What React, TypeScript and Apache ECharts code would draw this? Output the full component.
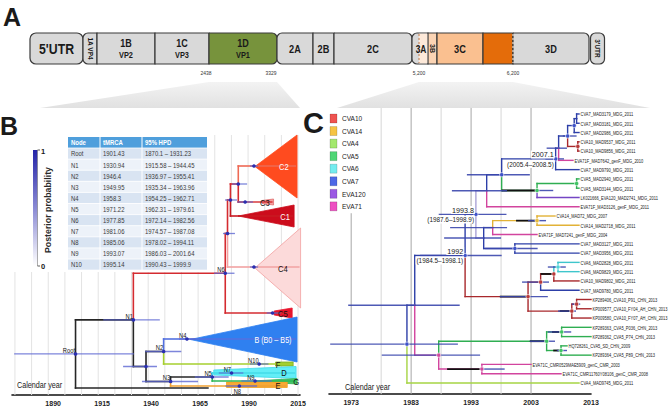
import React, { useEffect, useRef } from 'react';
import * as echarts from 'echarts';

const FONT = "'Liberation Sans', Arial, Helvetica, sans-serif";

// ================= Panel A (genome schematic) =================
const genomeNames = ["5'UTR", '1A VP4', '1B', '1C', '1D', '2A', '2B', '2C', '3A', '3B', '3C', '', '3D', "3'UTR"];
const genomeProteins = ['', '', 'VP2', 'VP3', 'VP1', '', '', '', '', '', '', '', '', ''];
const genomeMarks = ['2438', '3329', '5,200', '6,200'];

// ================= Panel B data =================
const tableNodes = ['Root', 'N1', 'N2', 'N3', 'N4', 'N5', 'N6', 'N7', 'N8', 'N9', 'N10'];
const tableTmrca = [1901.43, 1930.94, 1946.4, 1949.95, 1958.3, 1971.22, 1977.85, 1981.06, 1985.06, 1993.07, 1995.14];
const tableHpdLow = [1870.1, 1915.58, 1936.97, 1935.34, 1954.25, 1962.31, 1972.14, 1974.57, 1978.02, 1986.03, 1990.43];
const tableHpdHigh = [1931.23, 1944.45, 1955.41, 1963.96, 1962.71, 1979.61, 1982.56, 1987.08, 1994.11, 2001.64, 1999.9];

const bAxisYears = [1890, 1915, 1940, 1965, 1990, 2015];
const bGridYears = [1870.5, 1879, 1887.5, 1896, 1904.5, 1913, 1921.5, 1930, 1938.5, 1947, 1955.5, 1964, 1972.5, 1981, 1989.5, 1998, 2006.5, 2015];

const tm = (n: string) => tableTmrca[tableNodes.indexOf(n)];

const bTreeIds = ['Root', 'N1', 'L0', 'N6', 'X', 'Z', 'C5n', 'W', 'C4n', 'V', 'C1n', 'C2n', 'C3n', 'N2', 'N3', 'N4', 'N10', 'N5', 'N8', 'N7', 'N9'];
const bTreeYears = [tm('Root'), tm('N1'), 1969, tm('N6'), 1937.4, 1979, 2002, 1980.5, 1992.5, 1984.5, 1984.5, 1992.5, 1988, tm('N2'), tm('N3'), tm('N4'), tm('N10'), tm('N5'), tm('N8'), tm('N7'), tm('N9')];
const bTreeParents = [null, 'Root', 'Root', 'N1', 'N1', 'N6', 'N6', 'Z', 'Z', 'W', 'W', 'V', 'V', 'X', 'X', 'N2', 'N2', 'N3', 'N3', 'N5', 'N5'];
const bTreeColors = ['black', 'black', 'black', 'red', 'black', 'red', 'red', 'red', 'pink', 'red', 'darkred', 'salmon', 'red', 'black', 'black', 'blue', 'yellowgreen', 'black', 'orange', 'cyan', 'green'];
const bTipIds = ['C2n', 'C3n', 'C1n', 'C4n', 'C5n', 'N4', 'N10', 'N7', 'N9', 'N8', 'L0'];
const bTipLanes = [166, 202, 216, 267, 313, 339, 364, 373, 381, 386, 388];

const bExtraHpdIds = ['X', 'Z', 'W', 'V', 'C2n', 'C3n', 'C4n', 'C5n'];
const bExtraHpdLow = [1925.7, 1976.7, 1977.7, 1981.3, 1990.5, 1984, 1990.5, 1999];
const bExtraHpdHigh = [1943, 1982.8, 1983.9, 1989, 1994.6, 1992, 1994.6, 2006];

const cladeNames = ['C2', 'C3', 'C1', 'C4', 'C5', 'B (B0 – B5)', 'F', 'D', 'G', 'E'];
const cladeNodes = ['C2n', 'C3n', 'C1n', 'C4n', 'C5n', 'N4', 'N10', 'N7', 'N9', 'N8'];
const cladeStart = [1993, 1996.6, 1984.5, 1993, 2002.8, 1960, 2003.5, 1972, 1994, 1978.5];
const cladeEnd = [2014.5, 2002.5, 2013, 2016.3, 2012, 2014.5, 2012.5, 2014, 2014.5, 2009.5];
const cladeTop = [135, 199, 205, 228, 308, 317, 362, 366.5, 378.5, 382];
const cladeBottom = [198, 205, 227, 308, 318, 362, 366, 378.5, 384, 387.5];
const cladeStartHalf = [0, 1.5, 0, 0, 2, 0, 2, 2.5, 0.5, 2.75];
const cladeFill = ['#ff4b1f', '#f59c9c', '#cc0c1c', '#fcdada', '#e8142c', '#2f80f0', '#9ccc34', '#62eef7', '#45c768', '#f7a935'];
const cladeStroke = ['#ff4b1f', '#e07070', '#cc0c1c', '#f2a0a0', '#e8142c', '#2f80f0', '#80b020', '#40d8e8', '#30b050', '#f0a020'];
const cladeLabelColor = ['#fff', '#111', '#fff', '#111', '#111', '#fff', '#111', '#111', '#111', '#111'];
const cladeLabelYear = [2007.8, 1998.1, 2008.4, 2007.3, 2007.3, 2002.2, 2004.8, 2007.8, 2014, 2004.8];

// ================= Panel C data =================
const cLegendNames = ['CVA10', 'CVA14', 'CVA4', 'CVA5', 'CVA6', 'CVA7', 'EVA120', 'EVA71'];
const cLegendColors = ['#ef5350', '#f6c343', '#a3e86d', '#4fd676', '#74ecef', '#4d68e6', '#9b59e3', '#ee50c2'];
const cAxisYears = [1973, 1983, 1993, 2003, 2013];
const cGridYears = [1973, 1978, 1983, 1988, 1993, 1998, 2003];

const cLeafNames = [
  'CVA7_MAD3179_MDG_2011', 'CVA7_MAD3181_MDG_2011', 'CVA7_MAD2986_MDG_2011', 'CVA10_MAD9537_MDG_2011',
  'CVA10_MAD9856_MDG_2011', 'EVA71F_MAD7642_genF_MDG_2010', 'CVA7_MAD9790_MDG_2011', 'CVA5_MAD2940_MDG_2011',
  'CVA5_MAD3144_MDG_2011', 'LK021666_EVA120_MAD2741_MDG_2011', 'EVA71F_MAD3126_genF_MDG_2011', 'CVA14_MAD72_MDG_2007',
  'CVA14_MAD2718_MDG_2011', 'EVA71F_MAD7241_genF_MDG_2004', 'CVA7_MAD3127_MDG_2011', 'CVA7_MAD3956_MDG_2011',
  'CVA6_MAD2828_MDG_2011', 'CVA6_MAD9829_MDG_2011', 'CVA10_MAD9802_MDG_2011', 'CVA7_MAD9780_MDG_2011',
  'KP289406_CVA10_P91_CHN_2013', 'KP009577_CVA10_FY04_AH_CHN_2013', 'KP009580_CVA10_FY07_AH_CHN_2013', 'KP289363_CVA5_P036_CHN_2013',
  'KP289362_CVA5_P74_CHN_2013', 'HQ728261_CVA5_SD_CHN_2009', 'KP289364_CVA5_P89_CHN_2013', 'EVA71C_CMR0529MAE5909_genC_CMR_2003',
  'EVA71C_CMR11760Y08106_genC_CMR_2008', 'CVA4_MAD9745_MDG_2011',
];
const cLeafYears = [2011, 2011, 2011, 2011, 2011, 2010, 2011, 2011, 2011, 2011, 2011, 2007, 2011, 2004, 2011, 2011, 2011, 2011, 2011, 2011, 2013, 2013, 2013, 2013, 2013, 2009, 2013, 2003, 2008, 2011];
const cLeafParents = ['c1', 'c1', 'c2', 'cR1', 'cR1', 'J', 'N2007', 'cV5', 'cV5', 'cE', 'V', 'c14', 'c14', 'W', 'c7a', 'c7a', 'c6', 'c6', 'R1a', 'R1', 'cR3', 'cR3', 'R2', 'g1', 'g1', 'g2', 'g2', 'e71', 'e71', 'RootC'];
const cLeafColors = ['blue', 'blue', 'blue', 'red', 'red', 'magenta', 'blue', 'green', 'green', 'purple', 'magenta', 'yellow', 'yellow', 'magenta', 'blue', 'blue', 'cyan', 'cyan', 'red', 'blue', 'red', 'red', 'red', 'green', 'green', 'green', 'green', 'magenta', 'magenta', 'lime'];

const cNodeIds = ['RootC', 'Q', 'N1992', 'N1993', 'V', 'U', 'N2007', 'J', 'c3', 'c2', 'c1', 'cR1', 'cE', 'cV5', 'X', 'W', 'c14', 'c7a', 'R', 'R1', 'R1a', 'c6', 'R2', 'cR3', 'n439', 'g3', 'g1', 'g2', 'e71'];
const cNodeYears = [1982.3, 1983.6, 1992, 1993.8, 1995.6, 1998.1, 2007.1, 2007.6, 2009.1, 2010.2, 2010.6, 2010.8, 2004, 2010.6, 1995.1, 1996.6, 2004, 2000.3, 2002.5, 2004.6, 2006.8, 2007.5, 2009.8, 2010.6, 1987.6, 2005.6, 2008.1, 2008, 1994.8];
const cNodeParents = [null, 'RootC', 'Q', 'N1992', 'N1993', 'V', 'U', 'N2007', 'J', 'c3', 'c2', 'c3', 'U', 'cE', 'N1993', 'X', 'W', 'X', 'N1992', 'R', 'R1', 'R1a', 'R', 'R2', 'Q', 'n439', 'g3', 'g3', 'n439'];
const cNodeColors = ['blue', 'blue', 'blue', 'blue', 'pale', 'blue', 'blue', 'blue', 'blue', 'blue', 'blue', 'red', 'green', 'green', 'pale', 'blue', 'yellow', 'blue', 'red', 'red', 'red', 'cyan', 'red', 'red', 'magenta', 'green', 'green', 'green', 'magenta'];

const cHpdIds = ['RootC', 'Q', 'N1992', 'N1993', 'V', 'U', 'N2007', 'J', 'c3', 'cE', 'X', 'W', 'c14', 'c7a', 'R', 'R1', 'c6', 'R2', 'cR3', 'n439', 'g3', 'g1', 'g2', 'e71'];
const cHpdLow = [1969.5, 1972.5, 1984.5, 1987.6, 1989.8, 1992.3, 2005.4, 2005.6, 2008.3, 2004, 1988.5, 1989.5, 2002.5, 1995.3, 1997.8, 2001.5, 2005.8, 2007.5, 2009.8, 1978.1, 2002.8, 2005.8, 2007.3, 1994.8];
const cHpdHigh = [1990.8, 1991.1, 1998.1, 1998.9, 1999, 2002.8, 2008.5, 2009, 2010.6, 2006.7, 1998, 1999, 2005.5, 2004.1, 2005.8, 2006, 2008.8, 2010.5, 2011.2, 1994.5, 2007, 2009.7, 2009, 1998.6];

const cBlackIds = ['cE', 'c14', 'R', 'R2', 'g3', 'e71', 'R1a', 'g1', 'g2'];
const cBlackFrom = [1998.1, 2000.5, 1997.8, 2007.8, 2002.8, 1989, 2004.6, 2006.5, 2006.7];
const cBlackTo = [2004, 2004, 2002.5, 2009.8, 2005.6, 1994.8, 2006.8, 2008.1, 2008];

const cDotIds = ['RootC', 'n439', 'e71', 'g3', 'g1', 'g2', 'N1992', 'N1993', 'c7a', 'c14', 'U', 'cE', 'cV5', 'N2007', 'c3', 'c2', 'cR1', 'R', 'R1', 'R1a', 'c6', 'R2', 'cR3'];
const cAnnotIds = ['N2007', 'N1993', 'N1992'];

const bColors: Record<string, string> = {
  black: '#262626', red: '#d42b30', pink: '#f2a2a2', darkred: '#c81a22', salmon: '#ee6a55',
  blue: '#5470e0', yellowgreen: '#a6cf2e', orange: '#f0a030', cyan: '#45dbe8', green: '#2eb857',
};
const cColors: Record<string, string> = {
  blue: '#2d3fa8', red: '#a8282c', magenta: '#d2449e', green: '#2fae52', yellow: '#e2b236',
  cyan: '#3ec6cc', purple: '#7446c4', lime: '#a6d443', pale: '#aaa3d6',
};

type TNode = { id: string; year: number; parent: string | null; color: string; lane: number; children: string[] };

function layoutTree(ids: string[], years: number[], parents: (string | null)[], colors: string[], tipLanes: Record<string, number>) {
  const map: Record<string, TNode> = {};
  ids.forEach((id, i) => {
    map[id] = { id, year: years[i], parent: parents[i], color: colors[i], lane: tipLanes[id] ?? NaN, children: [] };
  });
  ids.forEach((id, i) => { const p = parents[i]; if (p) map[p].children.push(id); });
  const lane = (id: string): number => {
    const n = map[id];
    if (!isNaN(n.lane)) return n.lane;
    const ls = n.children.map(lane);
    n.lane = (Math.min(...ls) + Math.max(...ls)) / 2;
    return n.lane;
  };
  ids.forEach(lane);
  return map;
}

function branchSegments(map: Record<string, TNode>, palette: Record<string, string>) {
  const segs: any[] = [];
  Object.values(map).forEach((n) => {
    if (!n.parent) return;
    const p = map[n.parent];
    segs.push([p.year, p.lane, p.year, n.lane, palette[n.color]]);
    segs.push([p.year, n.lane, n.year, n.lane, palette[n.color]]);
  });
  return segs;
}

function segSeries(segs: any[], axis: number, width: number, z: number, cap = 'butt', opacity = 1) {
  return {
    type: 'custom', xAxisIndex: axis, yAxisIndex: axis, clip: false, silent: true, z,
    data: segs.map((s) => [s[0], s[1], s[2], s[3]]),
    renderItem: (params: any, api: any) => {
      const s = segs[params.dataIndex];
      const a = api.coord([s[0], s[1]]);
      const b = api.coord([s[2], s[3]]);
      return {
        type: 'line',
        shape: { x1: a[0], y1: a[1], x2: b[0], y2: b[1] },
        style: { stroke: s[4], lineWidth: s[5] ?? width, opacity: s[6] ?? opacity, lineCap: cap },
      };
    },
  };
}

function dotSeries(pts: any[], axis: number, r: number, z: number) {
  return {
    type: 'custom', xAxisIndex: axis, yAxisIndex: axis, clip: false, silent: true, z,
    data: pts.map((p) => [p[0], p[1]]),
    renderItem: (params: any, api: any) => {
      const p = pts[params.dataIndex];
      const c = api.coord([p[0], p[1]]);
      return { type: 'circle', shape: { cx: c[0], cy: c[1], r }, style: { fill: p[2], stroke: p[3] ?? 'none', lineWidth: 0.6 } };
    },
  };
}

// texts: [x, y, text, color, size, align, vAlign, scaleX, weight, dx, dy, bg]
function textSeries(items: any[], axis: number, z: number) {
  return {
    type: 'custom', xAxisIndex: axis, yAxisIndex: axis, clip: false, silent: true, z,
    data: items.map((t) => [t[0], t[1]]),
    renderItem: (params: any, api: any) => {
      const t = items[params.dataIndex];
      const c = api.coord([t[0], t[1]]);
      const style: any = {
        text: t[2], fill: t[3], fontSize: t[4], fontFamily: FONT, fontWeight: t[8] ?? 'normal',
        align: t[5], verticalAlign: t[6],
      };
      if (t[11]) { style.backgroundColor = t[11]; style.padding = [0, 1]; }
      return { type: 'text', x: c[0] + (t[9] ?? 0), y: c[1] + (t[10] ?? 0), scaleX: t[7] ?? 1, style };
    },
  };
}

function buildOption() {
  // ---------- Panel B ----------
  const bTip: Record<string, number> = {};
  bTipIds.forEach((id, i) => (bTip[id] = bTipLanes[i]));
  const bMap = layoutTree(bTreeIds, bTreeYears, bTreeParents, bTreeColors, bTip);
  const bBranches = branchSegments(bMap, bColors);

  const bGrid = bGridYears.map((yr) => [yr, yr < 1968.5 ? 272 : 135, yr, 395, '#e3e3e3']);

  const bStems = cladeNodes.map((id, i) => {
    const n = bMap[id];
    return [n.year, n.lane, Math.max(cladeEnd[i] - 0.5, n.year), n.lane, bColors[n.color]];
  });

  const bHpd: any[] = [];
  tableNodes.forEach((id, i) => {
    const lane = bMap[id].lane;
    bHpd.push([tableHpdLow[i], lane, tableHpdHigh[i], lane, '#5d66d2']);
  });
  bExtraHpdIds.forEach((id, i) => {
    const lane = bMap[id].lane;
    bHpd.push([bExtraHpdLow[i], lane, bExtraHpdHigh[i], lane, '#5d66d2']);
  });
  const bDots = [...tableNodes, ...bExtraHpdIds].map((id) => [bMap[id].year, bMap[id].lane, '#2a2fb0']);

  const bTexts: any[] = [];
  tableNodes.forEach((id) => {
    const n = bMap[id];
    if (id === 'N8') bTexts.push([n.year, n.lane, id, '#111', 6.8, 'center', 'top', 0.85, 'normal', -2, 2]);
    else bTexts.push([n.year, n.lane, id, '#111', 6.8, 'right', 'bottom', 0.85, 'normal', -0.5, -0.5]);
  });
  cladeNames.forEach((name, i) => {
    const lane = (cladeTop[i] + cladeBottom[i]) / 2 + 0.5;
    bTexts.push([cladeLabelYear[i], lane, name, cladeLabelColor[i], name.length > 3 ? 9 : 9.5, 'center', 'middle', 0.8, 'normal']);
  });

  const cladeSeries = {
    type: 'custom', xAxisIndex: 0, yAxisIndex: 0, clip: false, silent: true, z: 3,
    data: cladeNames.map((_, i) => [cladeStart[i], cladeTop[i]]),
    renderItem: (params: any, api: any) => {
      const i = params.dataIndex;
      const mid = (cladeTop[i] + cladeBottom[i]) / 2;
      const h = cladeStartHalf[i];
      const pts = [
        api.coord([cladeStart[i], mid - h]),
        api.coord([cladeEnd[i], cladeTop[i]]),
        api.coord([cladeEnd[i], cladeBottom[i]]),
        api.coord([cladeStart[i], mid + h]),
      ];
      return { type: 'polygon', shape: { points: pts }, style: { fill: cladeFill[i], stroke: cladeStroke[i], lineWidth: 0.8 } };
    },
  };

  // ---------- Panel C ----------
  const cIds = [...cNodeIds, ...cLeafNames];
  const cYears = [...cNodeYears, ...cLeafYears];
  const cParents = [...cNodeParents, ...cLeafParents];
  const cCols = [...cNodeColors, ...cLeafColors];
  const cTip: Record<string, number> = {};
  cLeafNames.forEach((n, i) => (cTip[n] = i));
  const cMap = layoutTree(cIds, cYears, cParents, cCols, cTip);
  const cBranches = branchSegments(cMap, cColors);

  const cGrid = cGridYears.map((yr) => [yr, yr === 1973 ? 10.7 : -0.65, yr, 30.2, yr % 10 === 3 ? '#a6a6a6' : '#d6d6d6']);
  const cBlack = cBlackIds.map((id, i) => [cBlackFrom[i], cMap[id].lane, cBlackTo[i], cMap[id].lane, '#111']);
  const cHpd = cHpdIds.map((id, i) => [cHpdLow[i], cMap[id].lane, cHpdHigh[i], cMap[id].lane, '#3b47ad']);
  const dotCol: Record<string, string> = { ...cColors, blue: '#3e52c8', pale: '#3e52c8', red: '#b83a3a', green: '#3fc463', magenta: '#d04a9c', yellow: '#e6bb3c', cyan: '#4fd3d8' };
  const cDots = cDotIds.map((id) => [cMap[id].year, cMap[id].lane, dotCol[cMap[id].color], '#ffffff']);

  const cTexts: any[] = cLeafNames.map((name, i) => [cLeafYears[i], i, name, '#1a1a1a', 6, 'left', 'middle', 0.67, 'normal', 1.5, 0]);
  cAnnotIds.forEach((id) => {
    const n = cMap[id];
    const k = cHpdIds.indexOf(id);
    cTexts.push([n.year, n.lane, String(n.year), '#1a1a1a', 8, 'right', 'bottom', 0.9, 'normal', -1, -0.5, '#ffffff']);
    cTexts.push([n.year, n.lane, `(${cHpdLow[k]}–${cHpdHigh[k]})`, '#1a1a1a', 7.5, 'right', 'top', 0.85, 'normal', -1, 1, '#ffffff']);
  });

  // ---------- graphic (panel A, table, legends) ----------
  const g: any[] = [];
  const T = (text: string, x: number, y: number, size: number, o: any = {}) =>
    g.push({
      type: 'text', x, y, scaleX: o.sx ?? 1, rotation: o.rot ?? 0, z: o.z ?? 20, silent: true,
      style: {
        text, fill: o.color ?? '#1a1a1a', fontSize: size, fontFamily: FONT, fontWeight: o.weight ?? 'normal',
        textAlign: o.align ?? 'center', textVerticalAlign: o.va ?? 'middle', align: o.align ?? 'center', verticalAlign: o.va ?? 'middle',
      },
    });
  const R = (x: number, y: number, w: number, h: number, fill: any, o: any = {}) =>
    g.push({
      type: 'rect', z: o.z ?? 10, silent: true, shape: { x, y, width: w, height: h, r: o.r ?? 0 },
      style: { fill, stroke: o.stroke ?? 'none', lineWidth: o.lw ?? 1, lineDash: o.dash },
    });

  const trapFill = new echarts.graphic.LinearGradient(0, 0, 0, 1, [
    { offset: 0, color: '#f3f3f3' }, { offset: 1, color: '#e1e1e1' },
  ]);
  g.push({ type: 'polygon', z: 1, silent: true, shape: { points: [[209, 82], [277, 82], [300, 108], [40, 108]] }, style: { fill: trapFill } });
  g.push({ type: 'polygon', z: 1, silent: true, shape: { points: [[419, 82], [513, 82], [650, 108], [337, 108]] }, style: { fill: trapFill } });

  const by = 33, bh = 31;
  const edges = [30, 83, 97, 155, 209, 277, 313, 334, 412, 428, 437, 483, 513, 589];
  const fills = ['#d9d9d9', '#d9d9d9', '#d9d9d9', '#d9d9d9', '#77933c', '#d9d9d9', '#d9d9d9', '#d9d9d9', '#d9d9d9', '#fbd4b4', '#fac090', '#e46c0a', '#d9d9d9'];
  const radii: any[] = [6, [5, 0, 0, 5], 0, 0, [0, 5, 5, 0], [5, 0, 0, 5], 0, [0, 5, 5, 0], [5, 0, 0, 5], 0, 0, 0, [0, 5, 5, 0]];
  for (let i = 0; i < edges.length - 1; i++) {
    R(edges[i], by, edges[i + 1] - edges[i], bh, fills[i], { stroke: '#3a3a3a', lw: 1.2, r: radii[i] });
  }
  R(590.5, by, 14, bh, '#d9d9d9', { stroke: '#3a3a3a', lw: 1.2, r: 5 });
  R(419, by + 0.7, 8.4, bh - 1.4, '#fde9d9', { z: 11 });
  g.push({ type: 'line', z: 12, silent: true, shape: { x1: 419, y1: by + 1, x2: 419, y2: by + bh - 1 }, style: { stroke: '#c47a4a', lineWidth: 1, lineDash: [2, 2] } });
  g.push({ type: 'line', z: 12, silent: true, shape: { x1: 513, y1: by + 1, x2: 513, y2: by + bh - 1 }, style: { stroke: '#f4e0d0', lineWidth: 1.2, lineDash: [2, 2] } });

  const centers = [56.5, 90, 126, 182, 243, 295, 323.5, 373, 421, 432.5, 460, 498, 551, 597.5];
  genomeNames.forEach((name, i) => {
    if (!name) return;
    const cx = centers[i];
    if (i === 0) T(name, cx, 49, 15, { weight: 'bold', sx: 0.82 });
    else if (name === '1A VP4' || name === '3B' || name === "3'UTR") T(name, cx, 48.5, name === '3B' ? 7 : 6.5, { weight: 'bold', rot: -Math.PI / 2 });
    else if (genomeProteins[i]) {
      T(name, cx, 43, 11, { weight: 'bold', sx: 0.82 });
      T(genomeProteins[i], cx, 55, 9, { weight: 'bold', sx: 0.82 });
    } else T(name, cx, 49, name === '3A' ? 10.5 : 11.5, { weight: 'bold', sx: 0.8 });
  });
  const markX = [206, 271, 419, 513];
  genomeMarks.forEach((m, i) => T(m, markX[i], 73, 5.5, { color: '#333', sx: 0.9 }));

  T('A', 3, 4, 25, { weight: 'bold', align: 'left', va: 'top' });
  T('B', 0, 113, 25, { weight: 'bold', align: 'left', va: 'top' });
  T('C', 303, 108, 29, { weight: 'bold', align: 'left', va: 'top' });

  R(33, 150, 4.5, 116, new echarts.graphic.LinearGradient(0, 0, 0, 1, [
    { offset: 0, color: '#2424a8' }, { offset: 0.5, color: '#8a8ad4' }, { offset: 1, color: '#ffffff' },
  ]));
  g.push({ type: 'line', z: 12, silent: true, shape: { x1: 37.5, y1: 150, x2: 37.5, y2: 266 }, style: { stroke: '#777', lineWidth: 0.6 } });
  g.push({ type: 'line', z: 12, silent: true, shape: { x1: 37.5, y1: 150, x2: 40, y2: 150 }, style: { stroke: '#333', lineWidth: 0.8 } });
  g.push({ type: 'line', z: 12, silent: true, shape: { x1: 37.5, y1: 266, x2: 40, y2: 266 }, style: { stroke: '#333', lineWidth: 0.8 } });
  T('1', 41, 151.5, 7.5, { align: 'left', weight: 'bold' });
  T('0', 41, 266.5, 7.5, { align: 'left', weight: 'bold' });
  T('Posterior probability', 47.5, 210, 8.8, { rot: Math.PI / 2, color: '#2a2a2a', weight: 'bold', sx: 1 });

  const colX = [68, 100, 142, 207];
  const rowH = 11.1;
  const top = 137;
  R(68, top, 139, 11, '#4f9fdc', { z: 10 });
  ['Node', 'tMRCA', '95% HPD'].forEach((h, j) => T(h, colX[j] + 3, top + 5.8, 6.5, { align: 'left', color: '#fff', weight: 'bold', sx: 0.92 }));
  tableNodes.forEach((id, i) => {
    const y0 = top + 11 + i * rowH;
    R(68, y0, 139, rowH, i % 2 === 0 ? '#d9e4f2' : '#edf2f9', { z: 10 });
    const cells = [id, String(tableTmrca[i]), `${tableHpdLow[i]} – ${tableHpdHigh[i]}`];
    cells.forEach((c, j) => T(c, colX[j] + 3, y0 + rowH / 2 + 0.3, 6.6, { align: 'left', color: '#3a3a3a', sx: 0.9 }));
  });
  [100, 142].forEach((x) => g.push({ type: 'line', z: 11, silent: true, shape: { x1: x, y1: top, x2: x, y2: top + 11 + 11 * rowH }, style: { stroke: '#fff', lineWidth: 1 } }));
  for (let i = 0; i <= 11; i++) {
    const yy = top + 11 + i * rowH;
    g.push({ type: 'line', z: 11, silent: true, shape: { x1: 68, y1: yy, x2: 207, y2: yy }, style: { stroke: '#fff', lineWidth: 0.8 } });
  }

  T('Calendar year', 17, 385, 9.5, { align: 'left', sx: 0.76 });
  T('Calendar year', 345, 387, 9.5, { align: 'left', sx: 0.76 });

  // white strip at the left edge of panel C's plot area (keeps it clean, as in the figure)
  R(325.5, 104, 4.3, 288.5, '#ffffff', { z: 60 });

  cLegendNames.forEach((name, i) => {
    const yc = 118.5 + i * 12.55;
    R(330, yc - 4.5, 7, 9, cLegendColors[i], { stroke: 'rgba(0,0,0,0.25)', lw: 0.6, z: 62 });
    T(name, 342, yc, 8, { align: 'left', sx: 0.82, color: '#222', z: 62 });
  });

  const axisLabel = (vals: number[]) => ({
    customValues: vals, fontSize: 7, color: '#222', margin: 5, fontFamily: FONT, fontWeight: 'bold',
    formatter: (v: number) => String(v),
  });
  const hiddenY = {
    type: 'value', inverse: true, show: false,
    axisLine: { show: false }, axisTick: { show: false }, axisLabel: { show: false }, splitLine: { show: false },
  };

  return {
    backgroundColor: '#ffffff',
    animation: false,
    grid: [
      { left: 12, top: 130, width: 288, height: 265, show: false },
      { left: 329, top: 104.7, width: 262, height: 289.4, show: false },
    ],
    xAxis: [
      {
        gridIndex: 0, type: 'value', min: 1869, max: 2016,
        axisLine: { onZero: false, lineStyle: { color: '#111', width: 1.6 } }, axisTick: { show: false }, splitLine: { show: false },
        axisLabel: axisLabel(bAxisYears),
      },
      {
        gridIndex: 1, type: 'value', min: 1969.3, max: 2013,
        axisLine: { onZero: false, lineStyle: { color: '#111', width: 1.6 } }, axisTick: { show: false }, splitLine: { show: false },
        axisLabel: axisLabel(cAxisYears),
      },
    ],
    yAxis: [
      { ...hiddenY, gridIndex: 0, min: 130, max: 395 },
      { ...hiddenY, gridIndex: 1, min: -1, max: 30.2 },
    ],
    graphic: { elements: g },
    series: [
      segSeries(bGrid, 0, 1, 1),
      segSeries(cGrid, 1, 1, 1),
      cladeSeries,
      segSeries(bStems, 0, 1.4, 4),
      segSeries(bBranches, 0, 1.6, 5, 'square'),
      segSeries(bHpd, 0, 1.3, 6, 'butt', 0.8),
      dotSeries(bDots, 0, 1.8, 7),
      textSeries(bTexts, 0, 8),
      segSeries(cBranches, 1, 1.4, 5, 'square'),
      segSeries(cBlack, 1, 1.8, 6),
      segSeries(cHpd, 1, 1.4, 7, 'butt', 0.9),
      dotSeries(cDots, 1, 2.1, 8),
      textSeries(cTexts, 1, 9),
    ],
  };
}

export default function App() {
  const ref = useRef<HTMLDivElement>(null);
  useEffect(() => {
    const chart = echarts.init(ref.current!, null, { renderer: 'svg' });
    chart.setOption(buildOption() as any);
    return () => chart.dispose();
  }, []);
  return <div ref={ref} style={{ position: 'fixed', left: 0, top: 0, width: 669, height: 408, background: '#fff' }} />;
}
